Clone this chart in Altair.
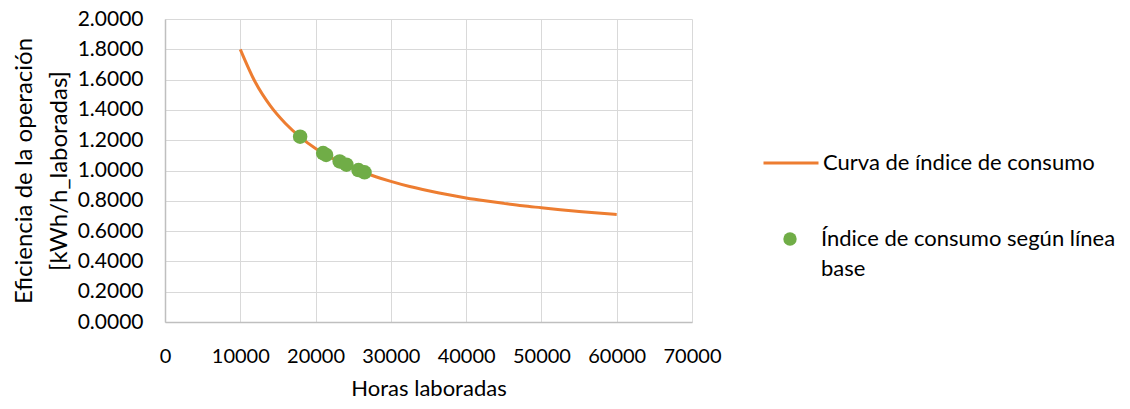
import altair as alt
import pandas as pd

# Curve "Curva de índice de consumo"
curve_x = [10000, 12000, 14000, 16000, 18000, 20000, 22000, 24000, 26000, 28000,
           30000, 32500, 35000, 37500, 40000, 42500, 45000, 47500, 50000, 52500,
           55000, 57500, 60000]
curve_y = [1.800, 1.582, 1.426, 1.310, 1.219, 1.146, 1.087, 1.037, 0.995, 0.959,
           0.928, 0.894, 0.866, 0.841, 0.819, 0.800, 0.783, 0.767, 0.754, 0.741,
           0.730, 0.719, 0.710]

# Baseline points "Índice de consumo según línea base"
pts_x = [17950, 21000, 21400, 23200, 24100, 25700, 26500]
pts_y = [1.223, 1.115, 1.103, 1.060, 1.038, 1.003, 0.988]

# Tick values
x_ticks = [0, 10000, 20000, 30000, 40000, 50000, 60000, 70000]
y_ticks = [0.0, 0.2, 0.4, 0.6, 0.8, 1.0, 1.2, 1.4, 1.6, 1.8, 2.0]

CURVE = "Curva de índice de consumo"
PTS = "Índice de consumo según línea base"
FONT = "Lato"

curve_df = pd.DataFrame({"x": curve_x, "y": curve_y, "s": CURVE})
pts_df = pd.DataFrame({"x": pts_x, "y": pts_y, "s": PTS})

xscale = alt.Scale(domain=[0, 70000], nice=False, zero=True)
yscale = alt.Scale(domain=[0, 2.0], nice=False)

xaxis = alt.Axis(title="Horas laboradas", values=x_ticks,
                 format="d", labelPadding=24, titlePadding=12, ticks=False,
                 labelFontSize=20, titleFontSize=22, labelFont=FONT, titleFont=FONT,
                 labelColor="#000000", titleColor="#000000", titleFontWeight="normal",
                 labelLineHeight=20,
                 domainColor="#bfbfbf", gridColor="#d9d9d9", domainWidth=1.5,
                 labelFlush=False, labelOverlap=False)
yaxis = alt.Axis(title=["Eficiencia de la operación", "[kWh/h_laboradas]"],
                 values=y_ticks, format=".4f",
                 labelPadding=22, titlePadding=6, ticks=False,
                 labelFontSize=21, titleFontSize=24, labelFont=FONT, titleFont=FONT,
                 labelColor="#000000", titleColor="#000000", titleFontWeight="normal",
                 labelLineHeight=18,
                 titleLineHeight=35, labelOverlap=False, labelBound=False,
                 domainColor="#bfbfbf", gridColor="#d9d9d9", domainWidth=1.5)

line = alt.Chart(curve_df).mark_line(strokeWidth=3, interpolate="monotone").encode(
    x=alt.X("x:Q", scale=xscale, axis=xaxis),
    y=alt.Y("y:Q", scale=yscale, axis=yaxis),
    stroke=alt.Stroke("s:N", scale=alt.Scale(domain=[CURVE], range=["#ED7D31"]),
                      legend=alt.Legend(title=None, orient="none", legendX=597, legendY=115,
                                        symbolType="stroke", symbolSize=3025,
                                        symbolStrokeWidth=3, labelOffset=3,
                                        labelFontSize=22, labelFont=FONT,
                                        labelColor="#000000", labelLimit=400)),
)

points = alt.Chart(pts_df).mark_circle(size=210, opacity=1).encode(
    x=alt.X("x:Q", scale=xscale, axis=xaxis),
    y=alt.Y("y:Q", scale=yscale, axis=yaxis),
    fill=alt.Fill("s:N", scale=alt.Scale(domain=[PTS], range=["#70AD47"]),
                  legend=alt.Legend(title=None, orient="none", legendX=614, legendY=209,
                                    symbolType="circle", symbolSize=180,
                                    symbolStrokeWidth=0, labelOffset=20,
                                    labelFontSize=22, labelFont=FONT,
                                    labelColor="#000000", labelLimit=400,
                                    labelBaseline="middle",
                                    labelExpr="datum.label == '" + PTS + "' ? ['Índice de consumo según línea', 'base'] : datum.label")),
)

chart = (line + points).properties(
    width=527, height=303,
    autosize=alt.AutoSizeParams(type="none"),
    padding={"left": 157, "top": 11, "right": 430, "bottom": 79},
).configure(style={"guide-label": {"lineHeight": 30}}).configure_view(strokeWidth=0)

chart.save("out.html", embed_options={"renderer": "svg", "actions": False})
